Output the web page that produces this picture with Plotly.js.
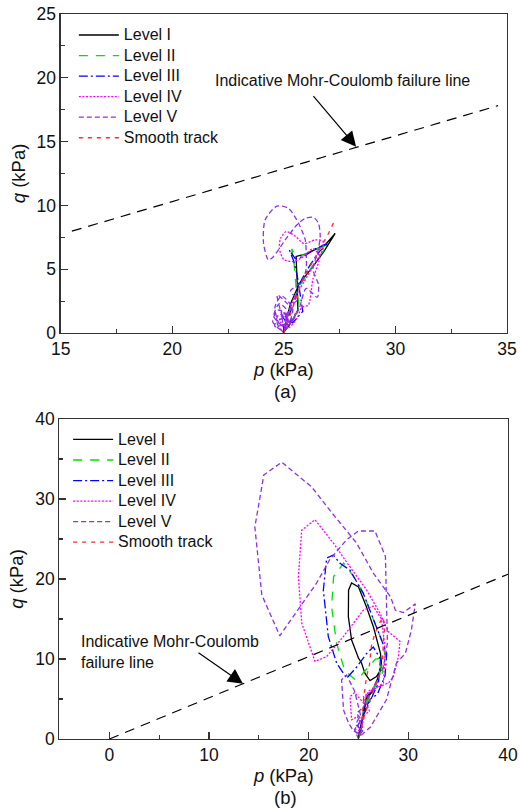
<!DOCTYPE html>
<html>
<head>
<meta charset="utf-8">
<script src="https://cdn.plot.ly/plotly-3.0.1.min.js"></script>
<style>
  html, body { margin: 0; padding: 0; background: #fff; }
  #chart { width: 520px; height: 812px; }
</style>
</head>
<body>
<div id="chart"></div>
<script>
// Series names shared by both panels
const seriesNames = ['Level I', 'Level II', 'Level III', 'Level IV', 'Level V', 'Smooth track'];

// ---- Panel (a): stress paths, p and q in kPa ----
const aLevel1P = [25.0, 25.1, 25.3, 25.7, 26.3, 26.8, 27.3, 26.85, 26.0, 25.55, 25.6, 25.63, 25.43, 25.2, 25.0];
const aLevel1Q = [0.0, 1.0, 2.3, 3.9, 5.2, 6.4, 7.8, 6.9, 6.2, 6.0, 3.8, 1.8, 1.15, 0.5, 0.1];

const aLevel2P = [25.0, 25.15, 25.4, 25.75, 26.3, 26.95, 26.5, 25.9, 25.45, 25.35, 25.45, 25.55, 25.7, 25.45, 25.1];
const aLevel2Q = [0.0, 1.2, 2.5, 3.8, 5.3, 6.9, 6.6, 6.1, 6.3, 6.6, 5.6, 3.6, 2.0, 1.2, 0.3];

const aLevel3P = [25.0, 25.2, 25.5, 25.8, 26.2, 26.6, 27.0, 26.4, 25.9, 25.5, 25.25, 25.45, 25.6, 25.75, 25.85, 25.4, 24.9, 25.2, 25.0];
const aLevel3Q = [0.1, 1.2, 2.6, 4.2, 5.4, 6.4, 7.05, 6.6, 6.0, 5.85, 6.5, 5.6, 4.5, 2.8, 1.7, 0.8, 1.4, 0.6, 0.2];

const aLevel4P = [25.0, 25.2, 25.5, 25.9, 26.3, 26.7, 26.75, 26.4, 25.9, 25.5, 25.1, 24.85, 24.8, 25.0, 25.4, 25.8, 26.3, 26.6, 26.3, 26.1, 25.8, 25.6, 25.2, 24.8, 25.1, 25.0];
const aLevel4Q = [0.2, 1.5, 2.8, 4.0, 5.2, 6.4, 7.2, 7.3, 7.0, 7.6, 7.95, 7.4, 6.6, 5.75, 5.6, 5.9, 6.6, 6.0, 4.2, 2.2, 2.0, 1.2, 0.4, 1.0, 1.6, 0.3];

const aLevel5P = [25.0, 24.7, 25.2, 24.8, 24.55, 25.1, 25.4, 24.9, 24.6, 24.85,
  25.35, 24.75, 24.5, 24.95, 25.5, 25.1, 24.7, 25.0, 25.35, 25.6,
  25.3, 25.8, 26.0, 26.0, 25.96, 25.66, 25.21, 24.69, 24.16, 24.09,
  24.31, 24.53, 25.06, 25.58, 25.96, 26.33, 26.55, 26.63, 26.5, 26.3,
  26.55, 26.5, 26.0, 25.7, 25.3, 24.8, 24.6, 25.2, 24.9, 25.0];
const aLevel5Q = [0.0, 0.8, 1.6, 2.3, 1.3, 0.4, 1.9, 2.9, 2.0, 0.6,
  1.1, 1.8, 0.9, 0.2, 1.4, 2.4, 3.0, 1.2, 2.2, 2.6,
  3.3, 4.0, 5.0, 6.4, 7.29, 8.6, 9.77, 9.95, 8.86, 7.03,
  5.72, 5.98, 7.29, 8.46, 8.99, 9.07, 8.6, 7.55, 6.2, 5.0,
  3.8, 2.8, 3.5, 2.0, 0.8, 1.5, 0.5, 0.9, 1.8, 0.2];

const aSmoothP = [25.0, 25.2, 25.5, 25.8, 26.2, 26.6, 27.0, 27.3];
const aSmoothQ = [0.0, 1.0, 2.5, 4.0, 5.3, 6.6, 7.8, 8.9];

// Indicative Mohr-Coulomb failure line, panel (a)
const aFailureP = [15.5, 34.6];
const aFailureQ = [7.98, 17.82];

// ---- Panel (b): stress paths, p and q in kPa ----
const bLevel1P = [25.0, 25.3, 25.5, 25.8, 26.5, 27.2, 27.3, 27.2, 26.5, 25.8, 25.0, 24.3, 24.0, 23.98, 24.3, 25.0, 25.3, 25.65, 26.15, 26.8, 27.2, 26.5, 25.8, 25.4, 25.0];
const bLevel1Q = [0.2, 1.5, 3.6, 5.3, 6.1, 8.6, 9.5, 10.7, 14.0, 16.5, 19.0, 19.5, 18.6, 15.3, 12.4, 10.1, 9.5, 8.2, 7.3, 7.8, 8.6, 6.1, 5.0, 2.5, 0.5];

const bLevel2P = [25.0, 25.3, 25.7, 26.5, 27.3, 27.7, 27.3, 26.5, 25.5, 24.5, 23.5, 22.5, 22.3, 22.8, 23.6, 24.65, 25.3, 26.0, 26.7, 27.3, 27.0, 26.0, 25.3, 25.0];
const bLevel2Q = [0.3, 2.0, 4.5, 6.5, 7.8, 10.3, 12.4, 14.9, 18.2, 20.3, 22.0, 20.3, 16.5, 12.0, 8.6, 7.4, 8.0, 9.0, 10.0, 10.1, 7.5, 5.0, 2.0, 0.3];

const bLevel3P = [25.0, 25.2, 25.6, 26.2, 26.9, 27.66, 27.83, 26.82, 25.48, 24.15, 23.14, 22.47, 21.8, 21.47, 21.97, 22.81, 23.81, 24.82, 25.82, 26.48, 27.2, 27.0, 26.2, 25.5, 24.9, 25.4, 25.0];
const bLevel3Q = [0.1, 1.5, 3.6, 5.0, 5.6, 7.9, 10.7, 14.0, 18.2, 21.1, 21.96, 23.0, 22.6, 18.6, 12.8, 9.46, 7.6, 9.0, 10.7, 11.5, 10.0, 7.0, 4.8, 3.0, 1.6, 1.0, 0.2];

const bLevel4P = [25.0, 25.4, 24.9, 24.3, 24.15, 24.6, 25.5, 26.0, 27.0, 28.0, 28.5, 29.0, 29.16, 28.0, 27.16, 25.82, 24.15, 22.47, 20.63, 19.3, 18.97, 19.3, 20.63, 21.8, 23.47, 25.48, 26.48, 27.3, 27.6, 27.66, 27.5, 26.5, 25.5, 26.1, 25.6, 25.2, 24.7, 25.0];
const bLevel4Q = [0.1, 1.5, 2.8, 2.4, 5.3, 5.8, 4.5, 6.0, 6.5, 7.0, 7.8, 10.3, 12.2, 13.4, 15.7, 18.6, 21.5, 24.5, 27.4, 26.1, 20.3, 14.5, 9.7, 10.3, 12.8, 16.1, 16.6, 15.0, 12.0, 10.7, 7.0, 6.1, 5.3, 3.5, 3.0, 1.0, 1.2, 0.2];

const bLevel5P = [25.0, 24.6, 25.3, 24.8, 25.5, 26.5, 27.5, 27.9, 27.8, 27.8, 27.7, 26.65, 24.98, 23.8, 22.1, 20.8, 19.1, 17.1, 15.3, 14.6, 15.5, 17.3, 20.3, 22.5, 24.8, 26.5, 28.2, 28.7, 29.5, 30.7, 30.3, 29.7, 28.8, 27.8, 26.2, 25.3, 24.5, 24.0, 23.5, 23.3, 23.8, 24.6, 25.2, 24.7, 25.4, 25.0];
const bLevel5Q = [0.0, 1.2, 2.4, 3.2, 4.0, 6.5, 9.0, 12.0, 17.4, 18.2, 22.8, 26.0, 26.0, 24.9, 22.4, 19.5, 16.5, 12.9, 18.0, 26.5, 33.0, 34.6, 31.5, 28.0, 24.5, 20.7, 17.8, 16.1, 15.8, 16.9, 13.6, 10.7, 9.5, 4.9, 1.5, 0.5, 1.0, 2.0, 3.6, 7.4, 8.0, 6.0, 3.0, 1.8, 1.0, 0.3];

const bSmoothP = [25.0, 25.3, 25.5, 25.8, 26.1, 26.3, 26.65, 27.2, 27.5, 27.6, 27.5, 27.4, 27.0, 26.3, 25.6, 25.1];
const bSmoothQ = [0.2, 1.5, 4.9, 7.8, 9.3, 11.7, 13.2, 14.7, 15.2, 13.5, 12.4, 9.5, 7.5, 5.5, 3.0, 0.5];

// Indicative Mohr-Coulomb failure line, panel (b)
const bFailureP = [0, 40];
const bFailureQ = [0, 20.6];

// Line styles per series: colour and dash pattern
const seriesColors = ['#000000', '#00e000', '#0000ff', '#ff00ff', '#8c32e6', '#ff2a2a'];
const seriesDash = ['solid', '9px,8px', '9px,3px,2px,3px', '2px,1.6px', '5px,3px', '4px,5px'];
// panel (a) loops of Level IV / V are drawn as smooth curves
const aShapes = ['linear', 'linear', 'linear', 'spline', 'spline', 'linear'];

const FONT = 'Liberation Sans, Arial, Helvetica, sans-serif';

const aData = [
  [aLevel1P, aLevel1Q], [aLevel2P, aLevel2Q], [aLevel3P, aLevel3Q],
  [aLevel4P, aLevel4Q], [aLevel5P, aLevel5Q], [aSmoothP, aSmoothQ]
];
const bData = [
  [bLevel1P, bLevel1Q], [bLevel2P, bLevel2Q], [bLevel3P, bLevel3Q],
  [bLevel4P, bLevel4Q], [bLevel5P, bLevel5Q], [bSmoothP, bSmoothQ]
];

// legend entries keep a compact row height while the label is drawn at 16px
function legendLabel(name) {
  return '<span style="font-size:16px">' + name + '</span>';
}

const traces = [];
aData.forEach(function (d, i) {
  traces.push({
    x: d[0], y: d[1], type: 'scatter', mode: 'lines', name: legendLabel(seriesNames[i]),
    xaxis: 'x', yaxis: 'y', legend: 'legend',
    line: { color: seriesColors[i], dash: seriesDash[i], width: 1.3, shape: aShapes[i], smoothing: 0.7 }
  });
});
bData.forEach(function (d, i) {
  traces.push({
    x: d[0], y: d[1], type: 'scatter', mode: 'lines', name: legendLabel(seriesNames[i]),
    xaxis: 'x2', yaxis: 'y2', legend: 'legend2',
    line: { color: seriesColors[i], dash: seriesDash[i], width: 1.3 }
  });
});
// failure lines (kept out of the legends)
traces.push({
  x: aFailureP, y: aFailureQ, type: 'scatter', mode: 'lines', showlegend: false,
  xaxis: 'x', yaxis: 'y', hoverinfo: 'skip',
  line: { color: '#000', dash: '10px,7px', width: 1.2 }
});
traces.push({
  x: bFailureP, y: bFailureQ, type: 'scatter', mode: 'lines', showlegend: false,
  xaxis: 'x2', yaxis: 'y2', hoverinfo: 'skip',
  line: { color: '#000', dash: '10px,7px', width: 1.2 }
});

function axisBase(extra) {
  const base = {
    showgrid: false, zeroline: false,
    showline: true, mirror: true, linecolor: '#333', linewidth: 1.3,
    ticks: 'inside', ticklen: 7, tickwidth: 1.2, tickcolor: '#333',
    tickfont: { family: FONT, size: 17.5, color: '#111' },
    fixedrange: true
  };
  return Object.assign(base, extra);
}

const legendBase = {
  xanchor: 'left', yanchor: 'top',
  bgcolor: 'rgba(0,0,0,0)', borderwidth: 0,
  font: { family: FONT, size: 13.5, color: '#111' },
  itemwidth: 40, tracegroupgap: 0
};

const layout = {
  width: 520, height: 812,
  margin: { l: 0, r: 0, t: 0, b: 0 },
  paper_bgcolor: '#fff', plot_bgcolor: '#fff',
  font: { family: FONT, size: 16, color: '#111' },
  xaxis: axisBase({
    domain: [0.1167, 0.975], range: [15, 35], anchor: 'y',
    tickvals: [15, 20, 25, 30, 35],
    minor: { dtick: 2.5, tick0: 15, ticks: 'inside', ticklen: 4, tickcolor: '#333', tickwidth: 1.1 },
    title: { text: '<i>p</i> (kPa)', font: { family: FONT, size: 18.5, color: '#111' }, standoff: 4 }
  }),
  yaxis: axisBase({
    domain: [0.5899, 0.9828], range: [0, 25], anchor: 'x',
    tickvals: [0, 5, 10, 15, 20, 25],
    minor: { dtick: 2.5, tick0: 0, ticks: 'inside', ticklen: 4, tickcolor: '#333', tickwidth: 1.1 },
    title: { text: '<i>q</i> (kPa)', font: { family: FONT, size: 18.5, color: '#111' }, standoff: 6 }
  }),
  xaxis2: axisBase({
    domain: [0.1144, 0.977], range: [-5, 40], anchor: 'y2',
    tickvals: [0, 10, 20, 30, 40],
    minor: { dtick: 5, tick0: 0, ticks: 'inside', ticklen: 4, tickcolor: '#333', tickwidth: 1.1 },
    title: { text: '<i>p</i> (kPa)', font: { family: FONT, size: 18.5, color: '#111' }, standoff: 4 }
  }),
  yaxis2: axisBase({
    domain: [0.0899, 0.484], range: [0, 40], anchor: 'x2',
    tickvals: [0, 10, 20, 30, 40],
    minor: { dtick: 5, tick0: 0, ticks: 'inside', ticklen: 4, tickcolor: '#333', tickwidth: 1.1 },
    title: { text: '<i>q</i> (kPa)', font: { family: FONT, size: 18.5, color: '#111' }, standoff: 6 }
  }),
  legend: Object.assign({ x: 0.142, y: 0.9757 }, legendBase),
  legend2: Object.assign({ x: 0.131, y: 0.4776 }, legendBase),
  annotations: [
    {
      xref: 'x', yref: 'y', x: 27.61, y: 19.75, text: 'Indicative Mohr-Coulomb failure line',
      showarrow: false, font: { family: FONT, size: 16, color: '#111' }, xanchor: 'center', yanchor: 'middle'
    },
    {
      xref: 'x', yref: 'y', x: 28.24, y: 14.6, text: '', showarrow: true,
      ax: -44, ay: -52, arrowhead: 2, arrowsize: 2.5, arrowwidth: 1.2, arrowcolor: '#000', standoff: 0
    },
    {
      xref: 'x2', yref: 'y2', x: -3.04, y: 10.9, text: 'Indicative Mohr-Coulomb<br>failure line',
      showarrow: false, align: 'left', font: { family: FONT, size: 16, color: '#111' }, xanchor: 'left', yanchor: 'middle'
    },
    {
      xref: 'x2', yref: 'y2', x: 13.41, y: 6.9, text: '', showarrow: true,
      ax: -46, ay: -32, arrowhead: 2, arrowsize: 2.5, arrowwidth: 1.2, arrowcolor: '#000', standoff: 0
    },
    {
      xref: 'paper', yref: 'paper', x: 285 / 520, y: 1 - 391 / 812, text: '(a)', showarrow: false,
      font: { family: FONT, size: 18.5, color: '#111' }, xanchor: 'center', yanchor: 'middle'
    },
    {
      xref: 'paper', yref: 'paper', x: 285 / 520, y: 1 - 797 / 812, text: '(b)', showarrow: false,
      font: { family: FONT, size: 18.5, color: '#111' }, xanchor: 'center', yanchor: 'middle'
    }
  ],
  showlegend: true
};

Plotly.newPlot('chart', traces, layout, { staticPlot: true, displayModeBar: false });
</script>
</body>
</html>
